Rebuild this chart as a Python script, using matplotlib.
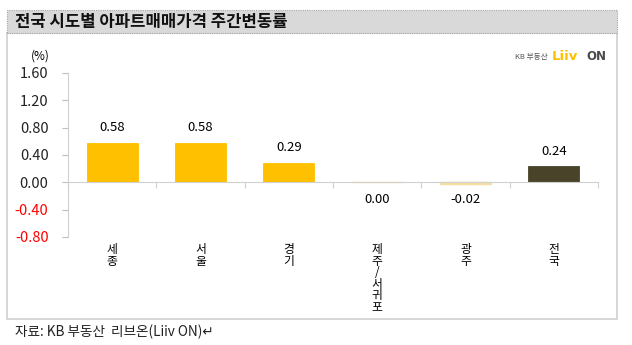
import matplotlib.pyplot as plt
from matplotlib.patches import Rectangle

plt.rcParams['font.family'] = ['Noto Sans CJK KR', 'DejaVu Sans']

# weekly apartment sale price change by region (%)
regions = ["세종", "서울", "경기", "제주/서귀포", "광주", "전국"]
changes = [0.58, 0.58, 0.29, 0.00, -0.02, 0.24]
bar_colors = ["#FFC000", "#FFC000", "#FFC000", "#FFC000", "#FFC000", "#494429"]
yticks = [-0.80, -0.40, 0.00, 0.40, 0.80, 1.20, 1.60]

W, H = 632, 345
fig = plt.figure(figsize=(W / 100, H / 100), dpi=100)


def fx(px):
    return px / W


def fy(py):
    return 1 - py / H


# panel frame and header band
fig.patches.append(Rectangle((fx(7), fy(319)), fx(610), fy(33) - fy(319),
                             transform=fig.transFigure, facecolor="white",
                             edgecolor="#D0D0D0", lw=1.2, zorder=-2))
fig.patches.append(Rectangle((fx(7), fy(33)), fx(610), fy(10) - fy(33),
                             transform=fig.transFigure, facecolor="#D9D9D9",
                             edgecolor="#A6A6A6", lw=0.8, ls=(0, (1, 1)), zorder=-1))
fig.text(fx(15), fy(22), "전국 시도별 아파트매매가격 주간변동률", fontsize=12,
         fontweight="bold", va="center", ha="left", color="#111111")

# logo
fig.text(fx(548), fy(57), "KB 부동산", fontsize=5.5, ha="right", va="center", color="#555555")
fig.text(fx(552), fy(56), "Liiv", fontsize=9.5, fontweight="bold", ha="left", va="center",
         color="#FFC000", family="DejaVu Sans")
fig.text(fx(586), fy(57), "ON", fontsize=8.5, fontweight="bold", ha="left", va="center",
         color="#4A4A4A", family="DejaVu Sans")

ax = fig.add_axes([fx(68), fy(237), fx(598) - fx(68), fy(73) - fy(237)])
ax.patch.set_alpha(0)
x = list(range(len(regions)))
bars = ax.bar(x, changes, width=0.58, color=bar_colors, edgecolor=bar_colors, lw=0.6, zorder=2)
# flat bars still leave a faint trace under the axis
for b, v in zip(bars, changes):
    if v <= 0:
        b.set_edgecolor("#F5DFA0")
        b.set_facecolor("#F5DFA0")
        b.set_linewidth(1.0)
ax.set_xlim(-0.5, len(regions) - 0.5)
ax.set_ylim(-0.80, 1.60)

ax.set_yticks(yticks)
ax.set_yticklabels([f"{v:.2f}" for v in yticks], fontsize=10.5)
for lbl, v in zip(ax.get_yticklabels(), yticks):
    lbl.set_color("#FF0000" if v < 0 else "#222222")
ax.tick_params(axis="y", length=4, color="#BFBFBF", pad=10)

# x axis sits at zero, category names hang below the plot
ax.spines["bottom"].set_position(("data", 0))
ax.spines["bottom"].set_color("#D0D0D0")
ax.spines["left"].set_color("#D0D0D0")
ax.spines["top"].set_visible(False)
ax.spines["right"].set_visible(False)
ax.set_xticks([i - 0.5 for i in range(len(regions) + 1)])
ax.set_xticklabels([])
ax.tick_params(axis="x", which="major", length=4, color="#D0D0D0")
ax.set_xticks(x, minor=True)
ax.set_xticklabels(["\n".join(r) for r in regions], minor=True, fontsize=8.5,
                   linespacing=0.85, va="top")
ax.tick_params(axis="x", which="minor", length=0, pad=44)

for b, v in zip(bars, changes):
    if v > 0:
        ax.annotate(f"{v:.2f}", (b.get_x() + b.get_width() / 2, v), xytext=(0, 6),
                    textcoords="offset points", ha="center", va="bottom", fontsize=9.5)
    else:
        ax.annotate(f"{v:.2f}", (b.get_x() + b.get_width() / 2, 0), xytext=(0, -8),
                    textcoords="offset points", ha="center", va="top", fontsize=9.5)

fig.text(fx(40), fy(56), "(%)", fontsize=8.5, ha="center", va="center")

fig.text(fx(15), fy(332), "자료: KB 부동산  리브온(Liiv ON)↵", fontsize=9.8, ha="left",
         va="center", color="#222222")

fig.savefig("out.png", dpi=100)
